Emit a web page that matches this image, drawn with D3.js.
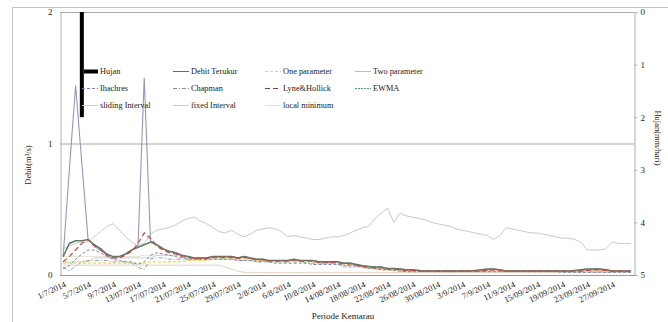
<!DOCTYPE html>
<html><head><meta charset="utf-8">
<script src="https://cdn.jsdelivr.net/npm/d3@7"></script>
<style>
body{margin:0;background:#fff}
svg{display:block}
text{font-family:"Liberation Serif","Times New Roman",serif;fill:#222}
</style></head>
<body><svg id="c" width="668" height="322"></svg>
<script>
const categories = [
"1/7/2014","2/7/2014","3/7/2014","4/7/2014","5/7/2014","6/7/2014","7/7/2014","8/7/2014","9/7/2014","10/07/2014",
"11/07/2014","12/07/2014","13/07/2014","14/07/2014","15/07/2014","16/07/2014","17/07/2014","18/07/2014","19/07/2014","20/07/2014",
"21/07/2014","22/07/2014","23/07/2014","24/07/2014","25/07/2014","26/07/2014","27/07/2014","28/07/2014","29/07/2014","30/07/2014",
"31/07/2014","1/8/2014","2/8/2014","3/8/2014","4/8/2014","5/8/2014","6/8/2014","7/8/2014","8/8/2014","9/8/2014",
"10/8/2014","11/08/2014","12/08/2014","13/08/2014","14/08/2014","15/08/2014","16/08/2014","17/08/2014","18/08/2014","19/08/2014",
"20/08/2014","21/08/2014","22/08/2014","23/08/2014","24/08/2014","25/08/2014","26/08/2014","27/08/2014","28/08/2014","29/08/2014",
"30/08/2014","31/08/2014","1/9/2014","2/9/2014","3/9/2014","4/9/2014","5/9/2014","6/9/2014","7/9/2014","8/9/2014",
"9/9/2014","10/9/2014","11/9/2014","12/09/2014","13/09/2014","14/09/2014","15/09/2014","16/09/2014","17/09/2014","18/09/2014",
"19/09/2014","20/09/2014","21/09/2014","22/09/2014","23/09/2014","24/09/2014","25/09/2014","26/09/2014","27/09/2014","28/09/2014",
"29/09/2014","30/09/2014"];

const tickLabels = ["1/7/2014","5/7/2014","9/7/2014","13/07/2014","17/07/2014","21/07/2014","25/07/2014","29/07/2014",
"2/8/2014","6/8/2014","10/8/2014","14/08/2014","18/08/2014","22/08/2014","26/08/2014","30/08/2014",
"3/9/2014","7/9/2014","11/9/2014","15/09/2014","19/09/2014","23/09/2014","27/09/2014"];
const tickIndex = [0,4,8,12,16,20,24,28,32,36,40,44,48,52,56,60,64,68,72,76,80,84,88];

const leftTicks = [0,1,2];
const rightTicks = [0,1,2,3,4,5];

const hujan = [0,0,0,2.0,0,0,0,0,0,0, 0,0,0,0,0,0,0,0,0,0, 0,0,0,0,0,0,0,0,0,0, 0,0,0,0,0,0,0,0,0,0,
0,0,0,0,0,0,0,0,0,0, 0,0,0,0,0,0,0,0,0,0, 0,0,0,0,0,0,0,0,0,0, 0,0,0,0,0,0,0,0,0,0, 0,0,0,0,0,0,0,0,0,0, 0,0];

const debitTerukur = [
0.14,0.80,1.44,0.85,0.27,0.22,0.19,0.15,0.13,0.14,
0.16,0.19,0.22,1.50,0.26,0.23,0.20,0.18,0.17,0.15,
0.14,0.13,0.13,0.13,0.14,0.14,0.14,0.14,0.13,0.14,
0.13,0.12,0.12,0.11,0.11,0.11,0.11,0.12,0.11,0.11,
0.11,0.10,0.10,0.10,0.10,0.09,0.09,0.08,0.07,0.065,
0.06,0.06,0.05,0.05,0.045,0.04,0.04,0.035,0.03,0.03,
0.03,0.03,0.03,0.03,0.03,0.03,0.03,0.03,0.04,0.045,
0.04,0.03,0.03,0.03,0.03,0.03,0.03,0.03,0.03,0.03,
0.03,0.03,0.03,0.035,0.04,0.045,0.045,0.04,0.03,0.03,
0.03,0.03];

const ewma = [
0.14,0.24,0.26,0.26,0.27,0.23,0.20,0.16,0.14,0.14,
0.16,0.19,0.21,0.23,0.25,0.23,0.20,0.18,0.17,0.15,
0.14,0.13,0.13,0.13,0.14,0.14,0.14,0.14,0.13,0.14,
0.13,0.12,0.12,0.11,0.11,0.11,0.11,0.12,0.11,0.11,
0.11,0.10,0.10,0.10,0.10,0.09,0.09,0.08,0.07,0.065,
0.06,0.06,0.05,0.05,0.045,0.04,0.04,0.035,0.03,0.03,
0.03,0.03,0.03,0.03,0.03,0.03,0.035,0.04,0.045,0.045,
0.04,0.03,0.03,0.03,0.03,0.03,0.03,0.03,0.03,0.03,
0.03,0.03,0.035,0.04,0.045,0.045,0.045,0.04,0.03,0.03,
0.03,0.03];

const lyneHollick = [
0.10,0.14,0.19,0.24,0.27,0.22,0.19,0.15,0.13,0.13,
0.15,0.18,0.24,0.32,0.28,0.22,0.19,0.17,0.16,0.14,
0.135,0.125,0.125,0.125,0.135,0.135,0.135,0.135,0.125,0.135,
0.125,0.115,0.115,0.105,0.105,0.105,0.105,0.115,0.105,0.105,
0.105,0.095,0.095,0.095,0.095,0.085,0.085,0.075,0.065,0.06,
0.055,0.055,0.045,0.045,0.04,0.035,0.035,0.03,0.03,0.03,
0.03,0.03,0.03,0.03,0.03,0.03,0.03,0.03,0.035,0.04,
0.035,0.03,0.03,0.03,0.03,0.03,0.03,0.03,0.03,0.03,
0.03,0.03,0.03,0.03,0.035,0.04,0.04,0.035,0.03,0.03,
0.03,0.03];

const onePar = [
0.09,0.09,0.09,0.09,0.09,0.09,0.09,0.09,0.09,0.09,
0.09,0.09,0.09,0.09,0.10,0.10,0.10,0.10,0.10,0.10,
0.11,0.11,0.11,0.11,0.12,0.12,0.12,0.12,0.12,0.12,
0.12,0.11,0.11,0.11,0.11,0.10,0.10,0.11,0.10,0.10,
0.10,0.10,0.09,0.09,0.09,0.085,0.08,0.075,0.065,0.055,
0.05,0.045,0.04,0.035,0.03,0.03,0.03,0.03,0.03,0.03,
0.03,0.03,0.03,0.03,0.03,0.03,0.03,0.03,0.03,0.03,
0.03,0.03,0.03,0.03,0.03,0.03,0.03,0.03,0.03,0.03,
0.03,0.03,0.03,0.03,0.03,0.03,0.03,0.03,0.03,0.03,
0.03,0.03];

const twoPar = [
0.20,0.22,0.24,0.25,0.25,0.29,0.33,0.37,0.39,0.34,
0.29,0.25,0.22,0.24,0.31,0.34,0.35,0.36,0.38,0.41,
0.43,0.44,0.41,0.39,0.36,0.33,0.32,0.34,0.31,0.29,
0.31,0.34,0.35,0.36,0.35,0.33,0.29,0.30,0.29,0.28,
0.27,0.27,0.28,0.29,0.29,0.30,0.32,0.34,0.36,0.37,
0.43,0.47,0.51,0.40,0.47,0.45,0.44,0.43,0.42,0.40,
0.39,0.38,0.37,0.35,0.34,0.33,0.32,0.31,0.30,0.27,
0.30,0.36,0.35,0.34,0.33,0.32,0.32,0.31,0.30,0.29,
0.28,0.28,0.27,0.25,0.19,0.19,0.19,0.20,0.25,0.24,
0.24,0.24];

const ihachres = [
0.05,0.07,0.12,0.16,0.19,0.19,0.17,0.14,0.12,0.11,
0.10,0.10,0.08,0.10,0.15,0.17,0.16,0.15,0.14,0.13,
0.12,0.12,0.12,0.12,0.12,0.12,0.12,0.12,0.11,0.11,
0.11,0.10,0.10,0.10,0.09,0.09,0.09,0.09,0.09,0.09,
0.08,0.08,0.08,0.08,0.08,0.07,0.07,0.07,0.06,0.05,
0.05,0.04,0.04,0.035,0.03,0.025,0.025,0.025,0.025,0.025,
0.025,0.025,0.025,0.025,0.025,0.025,0.025,0.025,0.025,0.025,
0.025,0.025,0.025,0.025,0.025,0.025,0.025,0.025,0.025,0.025,
0.02,0.02,0.02,0.02,0.02,0.02,0.02,0.02,0.02,0.02,
0.02,0.02];

const chapman = [
0.06,0.03,0.07,0.10,0.11,0.11,0.11,0.11,0.10,0.10,
0.10,0.09,0.06,0.04,0.12,0.13,0.13,0.12,0.12,0.12,
0.12,0.12,0.12,0.12,0.12,0.12,0.12,0.12,0.11,0.11,
0.11,0.10,0.10,0.10,0.10,0.10,0.10,0.10,0.10,0.09,
0.09,0.09,0.09,0.09,0.08,0.08,0.07,0.07,0.06,0.05,
0.05,0.04,0.04,0.035,0.03,0.03,0.03,0.03,0.03,0.03,
0.03,0.03,0.03,0.03,0.03,0.03,0.03,0.03,0.03,0.03,
0.03,0.03,0.03,0.03,0.03,0.03,0.03,0.03,0.03,0.03,
0.03,0.03,0.03,0.03,0.03,0.03,0.03,0.03,0.03,0.03,
0.03,0.03];

const slidingInterval = [
0.075,0.075,0.075,0.075,0.075,0.075,0.075,0.075,0.075,0.075,
0.075,0.075,0.075,0.075,0.075,0.075,0.075,0.075,0.075,0.075,
0.075,0.075,0.075,0.075,0.075,0.075,0.06,0.045,0.03,0.02,
0.02,0.02,0.02,0.02,0.02,0.02,0.02,0.02,0.02,0.02,
0.02,0.02,0.02,0.02,0.02,0.02,0.02,0.02,0.02,0.02,
0.02,0.02,0.02,0.02,0.02,0.02,0.02,0.02,0.02,0.02,
0.02,0.02,0.02,0.02,0.02,0.02,0.02,0.02,0.02,0.02,
0.02,0.02,0.02,0.02,0.02,0.02,0.02,0.02,0.02,0.02,
0.02,0.02,0.02,0.02,0.02,0.02,0.02,0.02,0.02,0.02,
0.02,0.02];

const fixedInterval = [
0.10,0.10,0.10,0.10,0.10,0.13,0.13,0.13,0.13,0.13,
0.13,0.13,0.13,0.13,0.13,0.15,0.15,0.15,0.15,0.15,
0.13,0.13,0.13,0.13,0.13,0.13,0.13,0.13,0.13,0.13,
0.11,0.11,0.11,0.11,0.11,0.11,0.11,0.11,0.11,0.11,
0.10,0.10,0.10,0.10,0.10,0.06,0.06,0.06,0.06,0.06,
0.04,0.04,0.04,0.04,0.04,0.03,0.03,0.03,0.03,0.03,
0.03,0.03,0.03,0.03,0.03,0.03,0.03,0.03,0.03,0.03,
0.03,0.03,0.03,0.03,0.03,0.03,0.03,0.03,0.03,0.03,
0.03,0.03,0.03,0.03,0.03,0.03,0.03,0.03,0.03,0.03,
0.03,0.03];

const localMinimum = [
0.14,0.14,0.14,0.14,0.14,0.14,0.14,0.14,0.13,0.13,
0.14,0.14,0.14,0.15,0.15,0.15,0.15,0.15,0.15,0.15,
0.14,0.13,0.13,0.13,0.13,0.13,0.13,0.13,0.13,0.13,
0.12,0.12,0.12,0.11,0.11,0.11,0.11,0.11,0.11,0.11,
0.11,0.10,0.10,0.10,0.10,0.09,0.09,0.08,0.07,0.06,
0.06,0.05,0.05,0.045,0.04,0.035,0.03,0.03,0.03,0.03,
0.03,0.03,0.03,0.03,0.03,0.03,0.03,0.03,0.03,0.03,
0.03,0.03,0.03,0.03,0.03,0.03,0.03,0.03,0.03,0.03,
0.03,0.03,0.03,0.03,0.03,0.03,0.03,0.03,0.03,0.03,
0.03,0.03];

const svg = d3.select("#c");
const L = 60, R = 634, T = 12, B = 275;

svg.append("rect").attr("x",12.5).attr("y",7.5).attr("width",700).attr("height",400)
  .attr("fill","none").attr("stroke","#c4c4c4").attr("stroke-width",1);

const x = d3.scaleBand().domain(d3.range(categories.length)).range([L,R]).padding(0);
const cx = i => x(i) + x.bandwidth()/2;
const yL = d3.scaleLinear().domain([0,2]).range([B,T]);
const yR = d3.scaleLinear().domain([0,5]).range([T,B]);

svg.append("g").selectAll("line").data([1,2]).join("line")
  .attr("x1",L).attr("x2",R).attr("y1",d=>yL(d)+0.5).attr("y2",d=>yL(d)+0.5)
  .attr("stroke","#a8a8a8").attr("stroke-width",1);

const gl = svg.append("g").attr("transform",`translate(${L+0.5},0)`)
  .call(d3.axisLeft(yL).tickValues(leftTicks).tickSize(0).tickPadding(8).tickFormat(d3.format("d")));
gl.select(".domain").attr("stroke","#b0b0b0");
gl.selectAll("text").attr("font-size",9).attr("font-family","Liberation Serif").attr("fill","#222");

const gr = svg.append("g").attr("transform",`translate(${R+0.5},0)`)
  .call(d3.axisRight(yR).tickValues(rightTicks).tickSize(3).tickPadding(3).tickFormat(d3.format("d")));
gr.select(".domain").attr("stroke","#b0b0b0");
gr.selectAll("line").attr("stroke","#b0b0b0");
gr.selectAll("text").attr("font-size",9).attr("font-family","Liberation Serif").attr("fill","#222");

svg.append("line").attr("x1",L).attr("x2",R+1).attr("y1",B+0.5).attr("y2",B+0.5)
  .attr("stroke","#9a9a9a").attr("stroke-width",1.2);

svg.append("g").selectAll("text").data(tickIndex).join("text")
  .attr("transform",(d)=>`translate(${cx(d)+1},${B+6}) rotate(-25)`)
  .attr("text-anchor","end").attr("dy","0.7em")
  .attr("font-size",8.5)
  .text((d,i)=>tickLabels[i]);

svg.append("text").attr("transform","translate(31,165) rotate(-90)").attr("text-anchor","middle")
  .attr("font-size",8.5).text("Debit(m³/s)");
svg.append("text").attr("transform","translate(655,138) rotate(90)").attr("text-anchor","middle")
  .attr("font-size",8.5).text("Hujan(mm/hari)");
svg.append("text").attr("x",343).attr("y",319).attr("text-anchor","middle")
  .attr("font-size",9).text("Periode Kemarau");

const series = [
  {name:"local minimum", data:localMinimum, color:"#e4e4cf", w:1, dash:null},
  {name:"sliding Interval", data:slidingInterval, color:"#e6d2bd", w:1, dash:null},
  {name:"fixed Interval", data:fixedInterval, color:"#cfcfe4", w:1, dash:null},
  {name:"Two parameter", data:twoPar, color:"#cdc8c8", w:1, dash:null},
  {name:"Chapman", data:chapman, color:"#9a9e9a", w:1, dash:"4,2,1,2"},
  {name:"One parameter", data:onePar, color:"#dede55", w:1.2, dash:"3,2"},
  {name:"Ihachres", data:ihachres, color:"#7888ad", w:1, dash:"3,2"},
  {name:"Debit Terukur", data:debitTerukur, color:"#9696bc", w:1.1, dash:null},
  {name:"EWMA", data:ewma, color:"#5f7a62", w:1.5, dash:null},
  {name:"Lyne&Hollick", data:lyneHollick, color:"#c94a45", w:1.3, dash:"5,3"}
];
const line = d3.line().x((d,i)=>cx(i)).y(d=>yL(d));
svg.append("g").selectAll("path").data(series).join("path")
  .attr("d",s=>line(s.data)).attr("fill","none")
  .attr("stroke",s=>s.color).attr("stroke-width",s=>s.w)
  .attr("stroke-dasharray",s=>s.dash);

svg.append("g").selectAll("rect").data(hujan.map((v,i)=>({v,i})).filter(d=>d.v>0)).join("rect")
  .attr("x",d=>cx(d.i)-2).attr("width",4)
  .attr("y",yR(0)).attr("height",d=>yR(d.v)-yR(0)).attr("fill","#000");

const legendItems = [
  {name:"Hujan", color:"#000", w:4, dash:null, col:0, row:0},
  {name:"Debit Terukur", color:"#6a6a80", w:1, dash:null, col:1, row:0},
  {name:"One parameter", color:"#dede55", w:1, dash:"3,2", col:2, row:0},
  {name:"Two parameter", color:"#c0baba", w:1, dash:null, col:3, row:0},
  {name:"Ihachres", color:"#7888ad", w:1, dash:"3,2", col:0, row:1},
  {name:"Chapman", color:"#8a8e8a", w:1, dash:"4,2,1,2", col:1, row:1},
  {name:"Lyne&Hollick", color:"#7a3a3a", w:1, dash:"5,3", col:2, row:1},
  {name:"EWMA", color:"#5a9a8a", w:1, dash:"2,1", col:3, row:1},
  {name:"sliding Interval", color:"#e0ccb4", w:1, dash:null, col:0, row:2},
  {name:"fixed Interval", color:"#c8c8dc", w:1, dash:null, col:1, row:2},
  {name:"local minimum", color:"#e2e2cc", w:1, dash:null, col:2, row:2}
];
const colX = [82,173,265,355];
const rowY = [71.5,88.5,105.5];
const lg = svg.append("g").selectAll("g").data(legendItems).join("g")
  .attr("transform",d=>`translate(${colX[d.col]},${rowY[d.row]})`);
lg.append("line").attr("x1",d=>d.col===0&&d.row===0?2:0).attr("x2",16).attr("y1",0).attr("y2",0)
  .attr("stroke",d=>d.color).attr("stroke-width",d=>d.w).attr("stroke-dasharray",d=>d.dash);
lg.append("text").attr("x",18).attr("y",0).attr("dy","0.33em").attr("font-size",8.3).text(d=>d.name);
</script></body></html>
